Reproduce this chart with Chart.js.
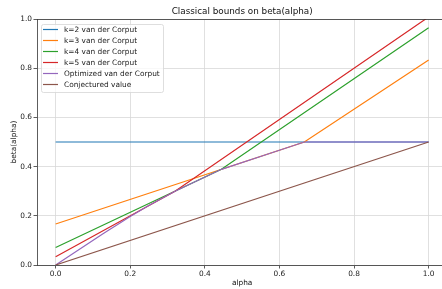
<!DOCTYPE html>
<html>
<head>
<meta charset="utf-8">
<script src="https://cdn.jsdelivr.net/npm/chart.js@4/dist/chart.umd.min.js"></script>
<style>
  body { margin: 0; background: #fff; overflow: hidden; }
  #wrap { width: 442px; height: 289px; }
</style>
</head>
<body>
<div id="wrap"><canvas id="betaChart" width="442" height="289"></canvas></div>
<script>
// tick labels
const alphaTicks = [0, 0.2, 0.4, 0.6, 0.8, 1.0];
const betaTicks = [0, 0.2, 0.4, 0.6, 0.8, 1.0];

const seriesLabels = [
    "k=2 van der Corput",
    "k=3 van der Corput",
    "k=4 van der Corput",
    "k=5 van der Corput",
    "Optimized van der Corput",
    "Conjectured value"
];

// series values (alpha -> beta)
const k2Alpha = [0, 1];
const k2Beta = [0.5, 0.5];
const k3Alpha = [0, 0.6667, 1];
const k3Beta = [0.1667, 0.5, 0.8333];
const k4Alpha = [0, 0.4444, 1];
const k4Beta = [0.0714, 0.3889, 0.9643];
const k5Alpha = [0, 0.32, 1];
const k5Beta = [0.0333, 0.3, 1.0083];
const optAlpha = [0, 0.1249, 0.1427, 0.1662, 0.1988, 0.2462, 0.32, 0.4444, 0.6667, 1];
const optBeta = [0, 0.1247, 0.1422, 0.1649, 0.1957, 0.2385, 0.3, 0.3889, 0.5, 0.5];
const conjAlpha = [0, 1];
const conjBeta = [0, 0.5];

const colors = ["#1f77b4", "#ff7f0e", "#2ca02c", "#d62728", "#9467bd", "#8c564b"];

function pts(xs, ys) {
    return xs.map((x, i) => ({ x: x, y: ys[i] }));
}

const seriesData = [
    pts(k2Alpha, k2Beta),
    pts(k3Alpha, k3Beta),
    pts(k4Alpha, k4Beta),
    pts(k5Alpha, k5Beta),
    pts(optAlpha, optBeta),
    pts(conjAlpha, conjBeta)
];

const FONT = "'DejaVu Sans', sans-serif";

const extras = {
    id: "extras",
    afterDraw(chart) {
        const ctx = chart.ctx;
        const a = chart.chartArea;
        const xs = chart.scales.x;
        ctx.save();

        // top spine
        ctx.strokeStyle = "#333";
        ctx.lineWidth = 0.8;
        ctx.beginPath();
        ctx.moveTo(a.left, a.top + 0.5);
        ctx.lineTo(a.right, a.top + 0.5);
        ctx.stroke();

        // title and axis labels
        ctx.fillStyle = "#111";
        ctx.textAlign = "center";
        ctx.textBaseline = "middle";
        const mid = (xs.getPixelForValue(-0.05) + xs.getPixelForValue(1.05)) / 2;
        ctx.font = "8.8px " + FONT;
        ctx.fillText("Classical bounds on beta(alpha)", mid, 12);
        ctx.font = "7.4px " + FONT;
        ctx.fillText("alpha", mid, 283);
        ctx.save();
        ctx.translate(14, (a.top + a.bottom) / 2);
        ctx.rotate(-Math.PI / 2);
        ctx.fillText("beta(alpha)", 0, 0);
        ctx.restore();

        // legend
        const bx = 41, by = 24, bw = 122, bh = 68, r = 2;
        ctx.globalAlpha = 0.8;
        ctx.fillStyle = "#fff";
        ctx.beginPath();
        ctx.roundRect(bx + 0.5, by + 0.5, bw, bh, r);
        ctx.fill();
        ctx.globalAlpha = 1;
        ctx.strokeStyle = "#d5d5d5";
        ctx.lineWidth = 0.8;
        ctx.stroke();

        ctx.textAlign = "left";
        ctx.font = "7.4px " + FONT;
        seriesLabels.forEach((lab, i) => {
            const y = by + 5.5 + i * 11;
            ctx.strokeStyle = colors[i];
            ctx.lineWidth = 1.2;
            ctx.beginPath();
            ctx.moveTo(bx + 2, y);
            ctx.lineTo(bx + 17, y);
            ctx.stroke();
            ctx.fillStyle = "#222";
            ctx.fillText(lab, bx + 23, y + 0.5);
        });
        ctx.restore();
    }
};

const ctx = document.getElementById("betaChart").getContext("2d");

new Chart(ctx, {
    type: "line",
    data: {
        datasets: seriesData.map((d, i) => ({
            label: seriesLabels[i],
            data: d,
            borderColor: colors[i],
            borderWidth: 1.2,
            pointRadius: 0,
            tension: 0,
            fill: false,
            order: -i
        }))
    },
    options: {
        responsive: false,
        animation: false,
        events: [],
        layout: { padding: { top: 19, left: 0, right: 0, bottom: 0 } },
        plugins: {
            legend: { display: false },
            title: { display: false },
            tooltip: { enabled: false }
        },
        scales: {
            x: {
                type: "linear",
                min: -0.05,
                max: 1.0358,
                afterBuildTicks: s => { s.ticks = alphaTicks.map(v => ({ value: v })); },
                afterFit: s => { s.height = 24; },
                ticks: {
                    autoSkip: false,
                    maxRotation: 0,
                    padding: 1.5,
                    color: "#222",
                    font: { family: FONT, size: 7.4 },
                    callback: v => v.toFixed(1)
                },
                grid: { color: "#d8d8d8", lineWidth: 0.8, tickColor: "#333", tickLength: 3.5 },
                border: { color: "#333", width: 0.8 }
            },
            y: {
                min: 0,
                max: 1,
                afterBuildTicks: s => { s.ticks = betaTicks.map(v => ({ value: v })); },
                afterFit: s => { s.width = 37; },
                ticks: {
                    autoSkip: false,
                    padding: 1.5,
                    color: "#222",
                    font: { family: FONT, size: 7.4 },
                    callback: v => v.toFixed(1)
                },
                grid: { color: "#d8d8d8", lineWidth: 0.8, tickColor: "#333", tickLength: 3.5 },
                border: { color: "#333", width: 0.8 }
            }
        }
    },
    plugins: [extras]
});
</script>
</body>
</html>
